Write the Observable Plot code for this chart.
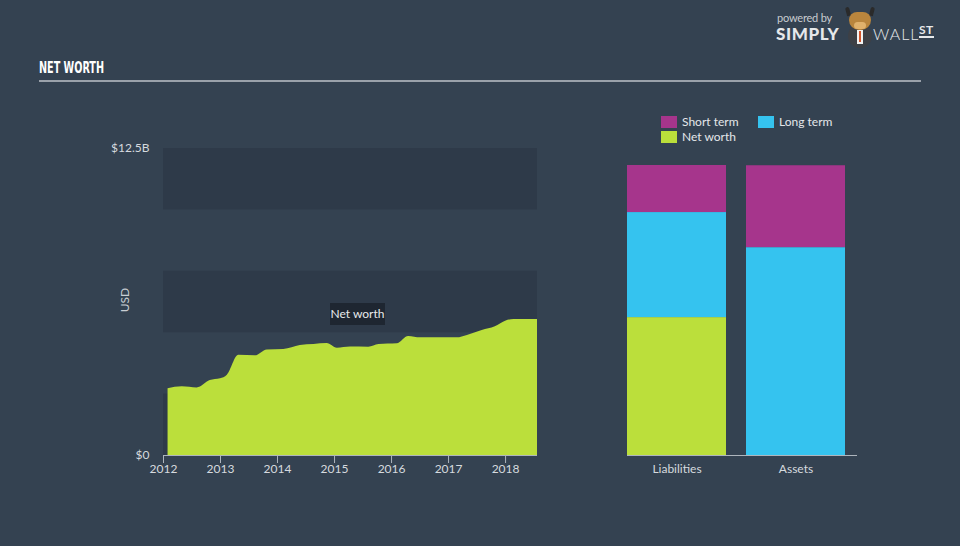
<!DOCTYPE html>
<html><head><meta charset="utf-8">
<script src="https://cdn.jsdelivr.net/npm/d3@7"></script>
<script src="https://cdn.jsdelivr.net/npm/@observablehq/plot@0.6"></script>
<style>
html,body{margin:0;padding:0;}
body{width:960px;height:546px;overflow:hidden;background:#344251;font-family:Lato,"Open Sans",sans-serif;}
#root{position:relative;width:960px;height:546px;background:#344251;}
.layer{position:absolute;left:0;top:0;}
.layer svg{background:transparent !important;overflow:visible;}
#title{position:absolute;left:39px;top:58px;font-family:"DejaVu Sans Condensed","Liberation Sans Narrow",sans-serif;font-weight:bold;font-size:16px;color:#fff;line-height:20px;white-space:nowrap;transform-origin:0 50%;}
#hrule{position:absolute;left:39px;top:80px;width:882px;height:2px;background:#9aa1aa;}
#usd{position:absolute;left:124px;top:300px;transform:translate(-50%,-50%) rotate(-90deg);font-size:12px;color:#c9ced4;}
#tip{position:absolute;left:330px;top:303px;width:55px;height:22px;line-height:22px;text-align:center;background:#1e2631;color:#e8eaec;font-size:12px;}
#legend{position:absolute;left:661px;top:115px;width:200px;font-size:12px;color:#e4e7ea;}
#legend .item{position:absolute;height:14px;line-height:14px;white-space:nowrap;}
#legend .sw{display:inline-block;width:16px;height:12px;vertical-align:-2px;margin-right:5px;}
#logo{position:absolute;left:776px;top:10px;color:#e6e8ea;}
#logo .pb{position:absolute;left:1px;top:1px;font-size:11px;color:#c8ccd0;white-space:nowrap;letter-spacing:-0.2px;}
#logo .s{position:absolute;left:0;top:13px;font-size:17px;font-weight:900;white-space:nowrap;letter-spacing:0.6px;}
#logo .body{position:absolute;left:72px;top:14px;width:24px;height:24px;border-radius:12px;background:#3d4046;}
#logo .shirt{position:absolute;left:81px;top:20px;width:6px;height:14px;background:#f2f2f2;}
#logo .tie{position:absolute;left:83px;top:21px;width:2px;height:11px;background:#d3542a;}
#logo .head{position:absolute;left:73px;top:2px;width:22px;height:18px;border-radius:9px 9px 11px 11px;background:#b9853d;}
#logo .snout{position:absolute;left:78px;top:12px;width:12px;height:7px;border-radius:4px;background:#e0b16c;}
#logo .horn1{position:absolute;left:70px;top:-3px;width:4px;height:9px;border-radius:3px 3px 0 0;background:#2a2a2a;transform:rotate(-15deg);}
#logo .horn2{position:absolute;left:94px;top:-3px;width:4px;height:9px;border-radius:3px 3px 0 0;background:#2a2a2a;transform:rotate(15deg);}
#logo .w{position:absolute;left:97px;top:14px;font-size:16px;font-weight:300;white-space:nowrap;letter-spacing:1px;}
#logo .st{position:absolute;left:143px;top:13px;font-size:12px;font-weight:bold;white-space:nowrap;border-bottom:2px solid #e6e8ea;line-height:13px;letter-spacing:0.5px;}
</style></head><body>
<div id="root">
  <div id="title">NET WORTH</div>
  <div id="hrule"></div>
  <div id="logo"><span class="pb">powered by</span><span class="s">SIMPLY</span><span class="body"></span><span class="shirt"></span><span class="tie"></span><span class="horn1"></span><span class="horn2"></span><span class="head"></span><span class="snout"></span><span class="w">WALL</span><span class="st">ST</span></div>
  <div id="left" class="layer"></div>
  <div id="right" class="layer"></div>
  <div id="usd">USD</div>
  <div id="tip">Net worth</div>
  <div id="legend"></div>
</div>
<script>
// ---- Net worth history (USD billions) ----
const years = [2012.08, 2012.33, 2012.59, 2012.82, 2013.0, 2013.12, 2013.32, 2013.61, 2013.82, 2014.11, 2014.40, 2014.64, 2014.87, 2015.05, 2015.28, 2015.60, 2015.78, 2016.10, 2016.30, 2016.51, 2017.15, 2017.33, 2017.59, 2017.82, 2018.0, 2018.15, 2018.56];
const netWorth = [2.72, 2.80, 2.75, 3.05, 3.12, 3.27, 4.08, 4.06, 4.30, 4.32, 4.48, 4.52, 4.56, 4.37, 4.42, 4.41, 4.52, 4.55, 4.85, 4.79, 4.79, 4.89, 5.09, 5.24, 5.47, 5.54, 5.54];
const yearTicks = [2012, 2013, 2014, 2015, 2016, 2017, 2018];
const valueTicks = [0, 12.5];
const bandStarts = [0, 5, 10];
const bandSize = 2.5;

// ---- Balance sheet (USD billions) ----
const balanceCategories = ["Liabilities", "Assets"];
const seriesNames = ["Short term", "Long term", "Net worth"];
const shortTerm = [1.89, 3.29];
const longTerm = [4.22, 8.35];
const netWorthBar = [5.54, 0];

const colors = {"Short term": "#a6358c", "Long term": "#35c3ef", "Net worth": "#bbdf3b"};
const axisGray = "#aeb5bd";
const textGray = "#d6dadf";

// fit condensed title to the reference width
const title = document.getElementById("title");
const tw = title.getBoundingClientRect().width;
title.style.transform = `scaleX(${65 / tw})`;

const history = years.map((y, i) => ({year: y, value: netWorth[i]}));

const left = Plot.plot({
  width: 960, height: 546,
  marginLeft: 163, marginRight: 423, marginTop: 148, marginBottom: 91,
  style: {background: "transparent", fontFamily: "Lato, 'Open Sans', sans-serif"},
  x: {domain: [2012, 2018.56]},
  y: {domain: [0, 12.5]},
  marks: [
    Plot.rect(bandStarts, {y1: d => d, y2: d => d + bandSize, fill: "#2e3a49"}),
    Plot.areaY(history, {x: "year", y: "value", curve: "monotone-x", fill: colors["Net worth"]}),
    Plot.ruleY([0], {stroke: axisGray, strokeWidth: 1.2}),
    Plot.axisX(yearTicks, {tickSize: 8, tickPadding: 1, stroke: axisGray, color: textGray, fontSize: 12, tickFormat: d => String(d), label: null}),
    Plot.axisY(valueTicks, {tickSize: 0, tickPadding: 14, color: textGray, fontSize: 12, tickFormat: d => d === 0 ? "$0" : "$" + d + "B", label: null})
  ]
});
document.getElementById("left").appendChild(left);

const balance = [];
balanceCategories.forEach((c, i) => {
  balance.push({cat: c, series: "Net worth", value: netWorthBar[i]});
  balance.push({cat: c, series: "Long term", value: longTerm[i]});
  balance.push({cat: c, series: "Short term", value: shortTerm[i]});
});
const total = d3.max(balanceCategories.map((c, i) => shortTerm[i] + longTerm[i] + netWorthBar[i]));

const right = Plot.plot({
  width: 960, height: 546,
  marginLeft: 627, marginRight: 103, marginTop: 165, marginBottom: 91,
  style: {background: "transparent", fontFamily: "Lato, 'Open Sans', sans-serif"},
  x: {domain: balanceCategories, paddingInner: 0.1667, paddingOuter: 0.0417, align: 0},
  y: {domain: [0, total], axis: null},
  color: {domain: seriesNames, range: seriesNames.map(s => colors[s])},
  marks: [
    Plot.barY(balance, {x: "cat", y: "value", fill: "series", order: ["Net worth", "Long term", "Short term"]}),
    Plot.ruleY([0], {stroke: axisGray, strokeWidth: 1.2}),
    Plot.axisX({tickSize: 0, tickPadding: 9, color: textGray, fontSize: 12, label: null})
  ]
});
document.getElementById("right").appendChild(right);

// legend
const legend = document.getElementById("legend");
const legendPos = [[0, 0], [97, 0], [0, 15]];
seriesNames.forEach((s, i) => {
  const it = document.createElement("div");
  it.className = "item";
  it.style.left = legendPos[i][0] + "px";
  it.style.top = legendPos[i][1] + "px";
  it.innerHTML = `<span class="sw" style="background:${colors[s]}"></span>${s}`;
  legend.appendChild(it);
});
</script>
</body></html>
